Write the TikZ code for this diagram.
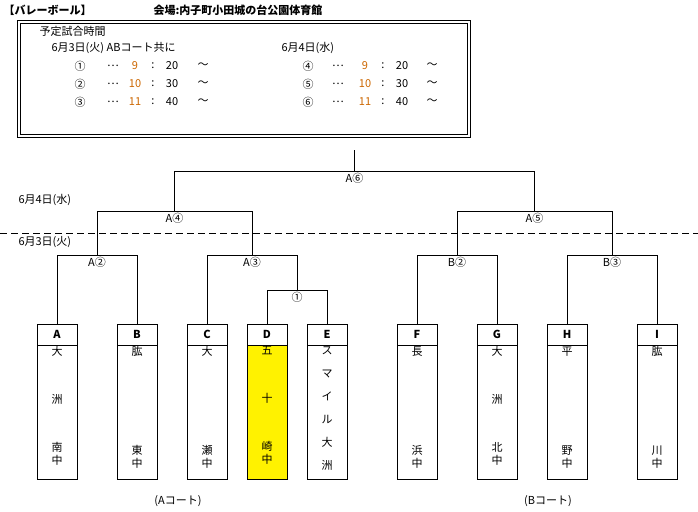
\documentclass[tikz,border=0pt]{standalone}
\usepackage{fontspec}
\setmainfont{Noto Sans CJK JP}
\usetikzlibrary{positioning,calc}
\newcommand{\fsz}{\fontsize{11}{13}\selectfont}
\tikzset{
  team/.style={draw, thick, minimum width=40pt, minimum height=21pt, inner sep=0pt, font=\bfseries\fsz},
  school/.style={draw, thick, minimum width=40pt, minimum height=134pt, anchor=north, inner sep=0pt},
  rd/.style={font=\fsz, below, inner sep=2pt},
  line/.style={thin}
}
\newcommand{\bracket}[4]{% name, left, right, y
  \coordinate (#1) at ($(#2 |- 0,#4)!0.5!(#3 |- 0,#4)$);
  \draw[line] (#2) |- (#3 |- 0,#4) -- (#3);}
\begin{document}
\begin{tikzpicture}[x=1pt, y=-1pt, font=\fsz]
\useasboundingbox (0,0) rectangle (698,511);
% header
\node[anchor=west, font=\bfseries\fsz] (title) at (0,10) {【バレーボール】};
\node[anchor=west, font=\bfseries\fsz] (venue) at (150,10) {会場:内子町小田城の台公園体育館};
\draw[thick] (17,20) rectangle (470,137);
\draw (20,23) rectangle (467,134);
\node[anchor=west] (plan) at (36,31) {予定試合時間};
\node[anchor=west] (d3) at (48,48) {6月3日(火)\ ABコート共に};
\node[anchor=west] (d4) at (278,48) {6月4日(水)};
\foreach \i/\c/\t [count=\k] in {①/9/20,②/10/30,③/11/40}{
  \node at (80,48+18*\k) {\i};
  \node at (113,48+18*\k) {…};
  \node[text=orange!80!black] at (135,48+18*\k) {\c};
  \node at (153,48+18*\k) {:};
  \node at (172,48+18*\k) {\t};
  \node at (203,48+18*\k) {～};
}
\foreach \i/\c/\t [count=\k] in {④/9/20,⑤/10/30,⑥/11/40}{
  \node at (308,48+18*\k) {\i};
  \node at (338,48+18*\k) {…};
  \node[text=orange!80!black] at (365,48+18*\k) {\c};
  \node at (383,48+18*\k) {:};
  \node at (402,48+18*\k) {\t};
  \node at (432,48+18*\k) {～};
}
% teams
\foreach \n/\x/\s in {A/57/{大\\[35pt]洲\\[35pt]南\\中},B/137/{肱\\[86pt]東\\中},C/207/{大\\[86pt]瀬\\中},
  E/327/{ス\\[10pt]マ\\[10pt]イ\\[10pt]ル\\[10pt]大\\[10pt]洲},F/417/{長\\[86pt]浜\\中},G/497/{大\\[35pt]洲\\[35pt]北\\中},
  H/567/{平\\[86pt]野\\中},I/657/{肱\\[86pt]川\\中}}{
  \node[team] (\n) at (\x,334.5) {\n};
  \node[school] (\n s) at (\n.south) {};
  \node[anchor=north, align=center, inner sep=1pt] at (\n s.north) {\s};
}
\node[team] (D) at (267,334.5) {D};
\node[school, fill=yellow] (D s) at (D.south) {};
\node[anchor=north, align=center, inner sep=1pt] at (D s.north) {五\\[35pt]十\\[35pt]崎\\中};
% brackets
\bracket{r1}{D}{E}{290}
\node[rd] at (r1) {①};
\bracket{a2}{A}{B}{255}
\node[rd] at (a2) {A②};
\draw[line] (C) |- (297,255) coordinate (c3) -- (r1);
\coordinate (a3) at (252,255);
\node[rd] at (a3) {A③};
\bracket{b2}{F}{G}{255}
\node[rd] at (b2) {B②};
\bracket{b3}{H}{I}{255}
\node[rd] at (b3) {B③};
\bracket{a4}{a2}{a3}{211}
\node[rd] at (a4) {A④};
\bracket{a5}{b2}{b3}{211}
\node[rd] at (a5) {A⑤};
\bracket{a6}{a4}{a5}{171}
\node[rd] at (a6) {A⑥};
\draw[line] (a6) -- ++(0,-21);
% days
\draw[thick, dash pattern=on 7pt off 4pt] (0,233) -- (698,233);
\node[anchor=west] (day4) at (15,200) {6月4日(水)};
\node[anchor=west] (day3) at (15,242) {6月3日(火)};
\node (courtA) at (178,501) {(Aコート)};
\node (courtB) at (548,501) {(Bコート)};
\end{tikzpicture}
\end{document}
